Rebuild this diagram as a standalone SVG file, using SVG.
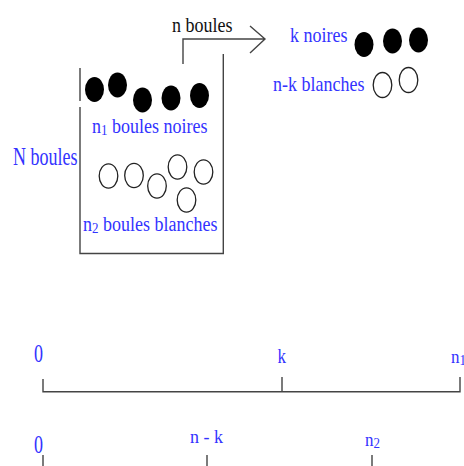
<svg xmlns="http://www.w3.org/2000/svg" width="464" height="466" viewBox="0 0 464 466">
<style>
.t{font-family:"Liberation Serif","Times New Roman",serif;font-size:18px;fill:#3333ff}
.k{fill:#111}
.ln{stroke:#444;stroke-width:1.4;fill:none}
.b{fill:#000}
.w{fill:#fff;stroke:#222;stroke-width:1.3}
.sub{font-size:13px}
</style>
<rect width="464" height="466" fill="#fff"/>
<g id="urne">
<path class="ln" d="M80,68V101M80,107V253.5H223.3V54"/>
<ellipse class="b" cx="94.5" cy="89.5" rx="9.5" ry="12.5"/>
<ellipse class="b" cx="117.5" cy="85" rx="9.5" ry="12.5"/>
<ellipse class="b" cx="142.5" cy="100" rx="9.5" ry="12.5"/>
<ellipse class="b" cx="171" cy="98" rx="9.5" ry="12.5"/>
<ellipse class="b" cx="199.5" cy="95.5" rx="9.5" ry="12.5"/>
<text class="t" transform="translate(92,133) scale(1,1.18)">n<tspan class="sub" dy="1.5">1</tspan><tspan dy="-1.5"> boules noires</tspan></text>
<ellipse class="w" cx="108.5" cy="176" rx="9.3" ry="12.2"/>
<ellipse class="w" cx="134" cy="175.5" rx="9.3" ry="12.2"/>
<ellipse class="w" cx="157" cy="186" rx="9.3" ry="12.2"/>
<ellipse class="w" cx="177.5" cy="167" rx="9.3" ry="12.2"/>
<ellipse class="w" cx="186.5" cy="200" rx="9.3" ry="12.2"/>
<ellipse class="w" cx="203.5" cy="172" rx="9.3" ry="12.2"/>
<text class="t" transform="translate(83,231) scale(1,1.2)">n<tspan class="sub" dy="1.5">2</tspan><tspan dy="-1.5"> boules blanches</tspan></text>
</g>
<g id="N-boules">
<text class="t" transform="translate(13,165) scale(1,1.35)">N boules</text>
</g>
<g id="tirage">
<path class="ln" d="M183,64V39H265M250,26L265,39L250,53"/>
<text class="t k" transform="translate(172,31.5) scale(1,1.15)">n boules</text>
</g>
<g id="echantillon">
<text class="t" transform="translate(290,42) scale(1,1.22)">k noires</text>
<ellipse class="b" cx="364" cy="44.5" rx="9.5" ry="12.5"/>
<ellipse class="b" cx="392.5" cy="41" rx="9.5" ry="12.5"/>
<ellipse class="b" cx="418.5" cy="40" rx="9.5" ry="12.5"/>
<text class="t" transform="translate(273,91) scale(1,1.22)">n-k blanches</text>
<ellipse class="w" cx="382.5" cy="85" rx="9.3" ry="12.5"/>
<ellipse class="w" cx="408.5" cy="80" rx="9.3" ry="12.5"/>
</g>
<g id="axe-noires">
<path class="ln" d="M43,379V391.7H460V377M282,377V391.7"/>
<text class="t" transform="translate(34,362) scale(1,1.35)">0</text>
<text class="t" transform="translate(277.5,363) scale(1,1.2)" style="font-size:17px">k</text>
<text class="t" transform="translate(451,363) scale(1,1.15)" style="font-size:17px">n<tspan class="sub" dy="1.5">1</tspan></text>
</g>
<g id="axe-blanches">
<path class="ln" d="M43,455V466M207,455V466M372,455V466"/>
<text class="t" transform="translate(34,452.5) scale(1,1.35)">0</text>
<text class="t" transform="translate(190,442.5) scale(1,1.05)">n - k</text>
<text class="t" transform="translate(365,446) scale(1,1.15)" style="font-size:17px">n<tspan class="sub" dy="1.5">2</tspan></text>
</g>
</svg>
